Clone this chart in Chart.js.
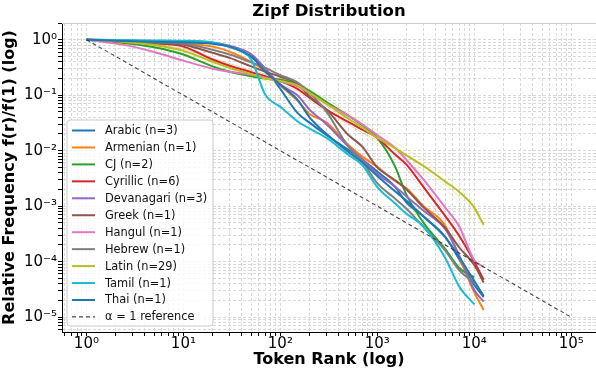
<!DOCTYPE html>
<html><head><meta charset="utf-8">
<script src="https://cdn.jsdelivr.net/npm/chart.js@4/dist/chart.umd.min.js"></script>
<style>html,body{margin:0;padding:0;background:#fff;}</style>
</head><body>
<canvas id="c" width="596" height="372"></canvas>
<script>
// ---- data ----
const ranks = [1,2,3,5,10,20,30,50,70,100,150,200,300,500,700,1000,1500,2000,3000,5000,7000,10000,12500];

const arabic     = [1,0.96,0.94,0.92,0.92,0.85,0.75,0.49,0.3,0.13,0.048,0.032,0.019,0.0104,0.0069,0.0042,0.0023,0.00116,0.00065,0.00028,0.00011,0.000038,0.000023];
const armenian   = [1,0.96,0.94,0.92,0.87,0.75,0.61,0.4,0.27,0.15,0.08,0.046,0.032,0.0128,0.0078,0.0051,0.0029,0.0021,0.001,0.00045,0.00012,0.000028,0.0000135];
const cj         = [1,0.9,0.84,0.73,0.54,0.33,0.265,0.22,0.2,0.19,0.16,0.12,0.075,0.043,0.029,0.017,0.0055,0.0016,0.0005,0.00017,0.000077,0.000052,null];
const cyrillic   = [1,0.93,0.9,0.86,0.75,0.44,0.34,0.26,0.22,0.18,0.13,0.09,0.055,0.033,0.024,0.017,0.0088,0.0056,0.0022,0.00067,0.00029,0.0001,0.000047];
const devanagari = [1,0.98,0.97,0.95,0.95,0.883,0.78,0.55,0.3,0.155,0.1,0.055,0.03,0.012,0.007,0.0038,0.0023,0.0015,0.00083,0.00039,0.00013,0.000031,0.000019];
const greek      = [1,0.95,0.92,0.88,0.81,0.58,0.47,0.33,0.265,0.215,0.16,0.095,0.055,0.0194,0.0118,0.005,0.003,0.002,0.00095,0.00041,0.00018,0.000087,0.000042];
const hangul     = [1,0.85,0.75,0.6,0.42,0.3,0.265,0.235,0.207,0.175,0.145,0.11,0.07,0.043,0.03,0.019,0.0115,0.0068,0.003,0.00095,0.00043,0.000106,0.000081];
const hebrew     = [1,0.96,0.93,0.9,0.847,0.66,0.54,0.39,0.31,0.23,0.17,0.11,0.05,0.012,0.0064,0.0026,0.0014,0.0009,0.00042,0.00016,0.00007,0.000042,null];
const latin      = [1,0.94,0.88,0.8,0.63,0.4,0.31,0.24,0.2,0.18,0.15,0.11,0.07,0.038,0.026,0.017,0.0113,0.0082,0.0053,0.0028,0.0018,0.00094,0.00046];
const tamil      = [1,0.99,0.98,0.97,0.96,0.9,0.74,0.44,0.102,0.062,0.034,0.025,0.017,0.0085,0.0055,0.0022,0.00115,0.00073,0.00043,0.000118,0.0000355,0.000017,null];
const thai       = [1,0.96,0.94,0.92,0.9,0.85,0.75,0.5,0.265,0.155,0.083,0.04,0.02,0.0096,0.0062,0.0035,0.0019,0.00125,0.00065,0.00028,0.00012,0.000045,0.000024];

// individual (faint) curves
const latinFaint1    = [1,0.95,0.9,0.83,0.68,0.46,0.37,0.29,0.24,0.2,0.165,0.125,0.085,0.048,0.034,0.023,0.0145,0.0105,0.0068,0.0036,0.0022,0.0012,null];
const latinFaint2    = [1,0.93,0.86,0.76,0.58,0.36,0.28,0.21,0.18,0.155,0.12,0.09,0.056,0.03,0.021,0.0135,0.0088,0.0063,0.0039,0.002,0.0012,0.0005,null];
const latinFaint3    = [1,0.94,0.88,0.79,0.62,0.4,0.31,0.25,0.21,0.17,0.135,0.1,0.063,0.034,0.023,0.015,0.0098,0.007,0.0045,0.0024,0.0015,0.0008,0.00042];
const latinFaint4    = [1,0.96,0.91,0.84,0.66,0.43,0.34,0.27,0.22,0.19,0.155,0.115,0.075,0.042,0.03,0.02,0.0125,0.0088,0.0055,0.0027,0.0014,null,null];
const cyrillicFaint1 = [1,0.9,0.86,0.8,0.7,0.42,0.32,0.24,0.2,0.16,0.115,0.08,0.048,0.03,0.021,0.015,0.0083,0.0047,0.0017,0.0005,0.00022,0.00008,0.00005];
const cyrillicFaint2 = [1,0.92,0.88,0.84,0.76,0.47,0.37,0.28,0.24,0.2,0.145,0.1,0.062,0.038,0.027,0.019,0.011,0.0065,0.0026,0.0008,0.00035,0.00012,null];

const refRanks  = [1, 100000];
const refValues = [1, 0.00001];

const chartTitle = 'Zipf Distribution';
const xTitle = 'Token Rank (log)';
const yTitle = 'Relative Frequency f(r)/f(1) (log)';
const seriesLabels = ['Arabic (n=3)','Armenian (n=1)','CJ (n=2)','Cyrillic (n=6)','Devanagari (n=3)','Greek (n=1)','Hangul (n=1)','Hebrew (n=1)','Latin (n=29)','Tamil (n=1)','Thai (n=1)'];
const seriesValues = [arabic, armenian, cj, cyrillic, devanagari, greek, hangul, hebrew, latin, tamil, thai];
const seriesColors = ['#1f77b4','#ff7f0e','#2ca02c','#d62728','#9467bd','#8c564b','#e377c2','#7f7f7f','#bcbd22','#17becf','#1f77b4'];
const faintValues = [latinFaint1, latinFaint2, latinFaint3, latinFaint4, cyrillicFaint1, cyrillicFaint2];
const faintColors = ['rgba(188,189,34,0.22)','rgba(188,189,34,0.22)','rgba(188,189,34,0.22)','rgba(188,189,34,0.22)','rgba(214,39,40,0.15)','rgba(214,39,40,0.15)'];
const refLabel = 'α = 1 reference';

// ---- build datasets ----
function pts(xs, ys){ const o=[]; for(let i=0;i<xs.length;i++){ if(ys[i]!=null) o.push({x:xs[i], y:ys[i]}); } return o; }
const datasets = [];
faintValues.forEach((v,i)=>datasets.push({data:pts(ranks,v), borderColor:faintColors[i], borderWidth:1, pointRadius:0, order:100+i, showInLegend:false}));
seriesValues.forEach((v,i)=>datasets.push({label:seriesLabels[i], data:pts(ranks,v), borderColor:seriesColors[i], borderWidth:2, pointRadius:0, order:50-i, showInLegend:true}));
datasets.push({label:refLabel, data:pts(refRanks,refValues), borderColor:'rgba(40,40,40,0.85)', borderWidth:1.1, borderDash:[4,3], pointRadius:0, order:0, showInLegend:true});

const SUP = {'0':'⁰','1':'¹','2':'²','3':'³','4':'⁴','5':'⁵','6':'⁶','7':'⁷','8':'⁸','9':'⁹','-':'⁻'};
function logTicks(scale){
  const t=[]; const lo=Math.floor(Math.log10(scale.min)), hi=Math.ceil(Math.log10(scale.max));
  for(let e=lo;e<=hi;e++){ for(let m=1;m<=9;m++){ const v=m*Math.pow(10,e); if(v>=scale.min && v<=scale.max) t.push({value:v, major:m===1}); } }
  scale.ticks=t;
}
function logLabel(v){ const e=Math.log10(v); if(Math.abs(e-Math.round(e))>1e-9) return ''; return '10'+String(Math.round(e)).split('').map(c=>SUP[c]).join(''); }

const F = 'DejaVu Sans';
const decorPlugin = {
  id:'decor',
  afterDatasetsDraw(chart){
    const ctx=chart.ctx; const items=chart.data.datasets.filter(d=>d.showInLegend);
    const x0=67, y0=120, w=146, h=206, r=3;
    ctx.save();
    ctx.beginPath();
    ctx.moveTo(x0+r,y0); ctx.lineTo(x0+w-r,y0); ctx.quadraticCurveTo(x0+w,y0,x0+w,y0+r);
    ctx.lineTo(x0+w,y0+h-r); ctx.quadraticCurveTo(x0+w,y0+h,x0+w-r,y0+h);
    ctx.lineTo(x0+r,y0+h); ctx.quadraticCurveTo(x0,y0+h,x0,y0+h-r);
    ctx.lineTo(x0,y0+r); ctx.quadraticCurveTo(x0,y0,x0+r,y0); ctx.closePath();
    ctx.fillStyle='rgba(255,255,255,0.8)'; ctx.fill();
    ctx.strokeStyle='#cccccc'; ctx.lineWidth=1; ctx.stroke();
    ctx.font='11.4px "'+F+'"'; ctx.textBaseline='middle'; ctx.textAlign='left';
    items.forEach((d,i)=>{
      const y=130.5+i*16.95;
      ctx.beginPath(); ctx.setLineDash(d.borderDash||[]);
      ctx.strokeStyle=d.borderColor; ctx.lineWidth=d.borderDash?1.2:2;
      ctx.moveTo(72,y); ctx.lineTo(95,y); ctx.stroke();
      ctx.setLineDash([]);
      ctx.fillStyle='#111'; ctx.fillText(d.label,105,y+0.5);
    });
    ctx.restore();
  },
  afterDraw(chart){
    const a=chart.chartArea, ctx=chart.ctx;
    ctx.save(); ctx.strokeStyle='#cccccc'; ctx.lineWidth=1;
    ctx.beginPath(); ctx.moveTo(a.left, a.top+0.5); ctx.lineTo(a.right, a.top+0.5); ctx.stroke();
    ctx.fillStyle='#000'; ctx.font='bold 16.5px "'+F+'"'; ctx.textAlign='center'; ctx.textBaseline='alphabetic';
    ctx.fillText(chartTitle, (a.left+a.right)/2, 15.5);
    ctx.restore();
  }
};

new Chart(document.getElementById('c'), {
  type:'line',
  data:{datasets},
  plugins:[decorPlugin],
  options:{
    responsive:false, animation:false, devicePixelRatio:1,
    layout:{padding:{left:0,right:0,top:23,bottom:0}},
    elements:{line:{tension:0, cubicInterpolationMode:'monotone'}},
    plugins:{ legend:{display:false}, tooltip:{enabled:false}, title:{display:false} },
    scales:{
      x:{type:'logarithmic', position:'bottom', min:0.56, max:180000,
        afterBuildTicks:logTicks, afterFit:s=>{s.height=40;},
        ticks:{callback:(v)=>logLabel(v), autoSkip:false, maxRotation:0, padding:-1, color:'#000', font:{family:F, size:15}},
        grid:{color:'#d9d9d9', tickColor:'#000', tickLength:4, drawTicks:true, tickBorderDash:[]},
        border:{display:true, color:'#000', width:1, dash:[3,2]},
        title:{display:true, text:xTitle, color:'#000', font:{family:F, size:16, weight:'bold'}, padding:{top:0,bottom:3}}
      },
      y:{type:'logarithmic', position:'left', min:0.0000054, max:2.0,
        afterBuildTicks:logTicks, afterFit:s=>{s.width=62;},
        ticks:{callback:(v)=>logLabel(v), autoSkip:false, padding:1, color:'#000', font:{family:F, size:15}},
        grid:{color:'#d9d9d9', tickColor:'#000', tickLength:4, drawTicks:true, tickBorderDash:[]},
        border:{display:true, color:'#000', width:1, dash:[3,2]},
        title:{display:true, text:yTitle, color:'#000', font:{family:F, size:16, weight:'bold'}, padding:{top:0,bottom:0}}
      }
    }
  }
});
</script>
</body></html>
